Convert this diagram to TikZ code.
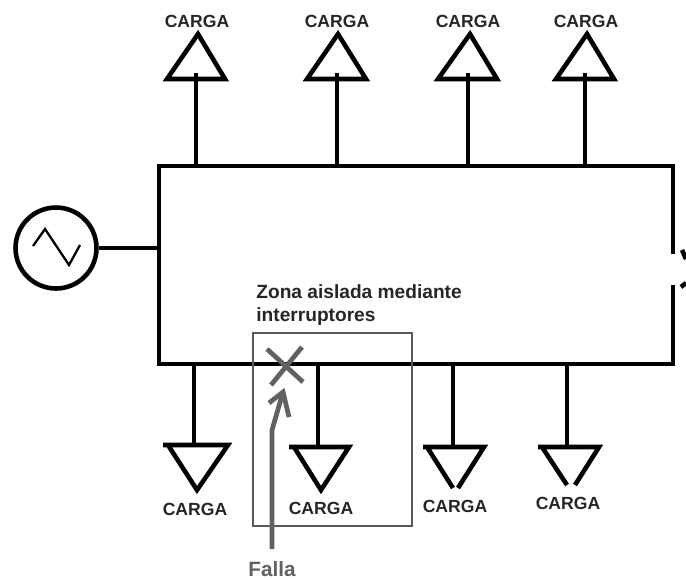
\documentclass[tikz,border=0pt]{standalone}
\usepackage{fontspec}
\setmainfont{Liberation Sans}
\tikzset{
  linea/.style={line width=2.6pt},
  carga/.style={font=\bfseries\fontsize{10}{12}\selectfont, text=black!85},
  gris/.style={draw=black!62, line width=2.7pt}
}

\begin{document}
\begin{tikzpicture}[x=0.02cm,y=-0.02cm]
  \useasboundingbox (0,0) rectangle (686,579);

  % Barra
  \coordinate (tl) at (159,166);
  \coordinate (tr) at (673,166);
  \coordinate (bl) at (159,364);
  \coordinate (br) at (673,364);
  \coordinate (gapa) at (673,254);
  \coordinate (gapb) at (673,285);
  \draw[linea] (gapa) -- (tr) -- (tl) -- (bl) -- (br) -- (gapb);

  % Interruptor abierto
  \coordinate (sa) at (682,250);
  \coordinate (sb) at (686,259);
  \coordinate (sc) at (681,287);
  \coordinate (sd) at (686,283);
  \draw[linea] (sa) -- (sb);
  \draw[linea] (sc) -- (sd);

  % Fuente
  \node[draw, circle, linea, minimum size=1.62cm] (gen) at (56,248) {};
  \coordinate (genbus) at (159,248);
  \draw[linea] (gen) -- (genbus);
  \draw[line width=1.3pt] (33,246) -- (45,229) -- (69,265) -- (80,245);

  % Cargas de arriba
  \foreach \n/\s/\a/\l/\r/\t in {1/196/198/167/225/197, 2/337/338/307/366/337, 3/468/470/438/497/468, 4/585/587/556/614/586} {
    \coordinate (up\n) at (\s,166);
    \coordinate (upstem\n) at (\s,73);
    \coordinate (upapex\n) at (\a,34);
    \coordinate (upleft\n) at (\l,79);
    \coordinate (upright\n) at (\r,79);
    \draw[linea] (up\n) -- (upstem\n);
    \draw[linea] (upleft\n) -- (upapex\n) -- (upright\n) -- cycle;
    \node[carga] (uplabel\n) at (\t,21) {CARGA};
  }

  % Cargas de abajo
  \coordinate (dn1) at (194,364);
  \coordinate (dnstem1) at (194,445);
  \draw[linea] (dn1) -- (dnstem1);
  \draw[linea] (163,445) -- (228,445) -- (197,490) -- (168,445);
  \node[carga] (dnlabel1) at (195,509) {CARGA};

  \coordinate (dn2) at (318,364);
  \coordinate (dnstem2) at (318,447);
  \draw[linea] (dn2) -- (dnstem2);
  \draw[linea] (289,447) -- (349,447) -- (321,490) -- (294,447);
  \node[carga] (dnlabel2) at (321,508) {CARGA};

  \coordinate (dn3) at (453,364);
  \coordinate (dnstem3) at (453,447);
  \draw[linea] (dn3) -- (dnstem3);
  \draw[linea] (453,488) -- (427,447) (423,447) -- (484,447) -- (458,488);
  \node[carga] (dnlabel3) at (455,506) {CARGA};

  \coordinate (dn4) at (567,364);
  \coordinate (dnstem4) at (567,447);
  \draw[linea] (dn4) -- (dnstem4);
  \draw[linea] (567,485) -- (542,447) (538,447) -- (599,447) -- (575,485);
  \node[carga] (dnlabel4) at (568,503) {CARGA};

  % Zona aislada
  \draw[black!65, line width=0.7pt] (253,333) rectangle (412,526);
  \node[anchor=west, align=left, inner sep=0pt, font=\bfseries\fontsize{10.9}{13}\selectfont, text=black!85] (zona) at (256,305) {Zona aislada mediante\\interruptores};

  % Falla
  \draw[gris] (267,349) -- (303,382);
  \draw[gris] (302,347) -- (271,385);
  \coordinate (fallaini) at (272,549);
  \coordinate (fallacodo) at (272,430);
  \coordinate (fallapunta) at (283,392);
  \draw[gris] (fallaini) -- (fallacodo) -- (fallapunta);
  \draw[gris] (269,403) -- (fallapunta) -- (289,417);
  \node[inner sep=0pt, font=\bfseries\fontsize{11.8}{13}\selectfont, text=black!62] (falla) at (272,569) {Falla};
\end{tikzpicture}
\end{document}
